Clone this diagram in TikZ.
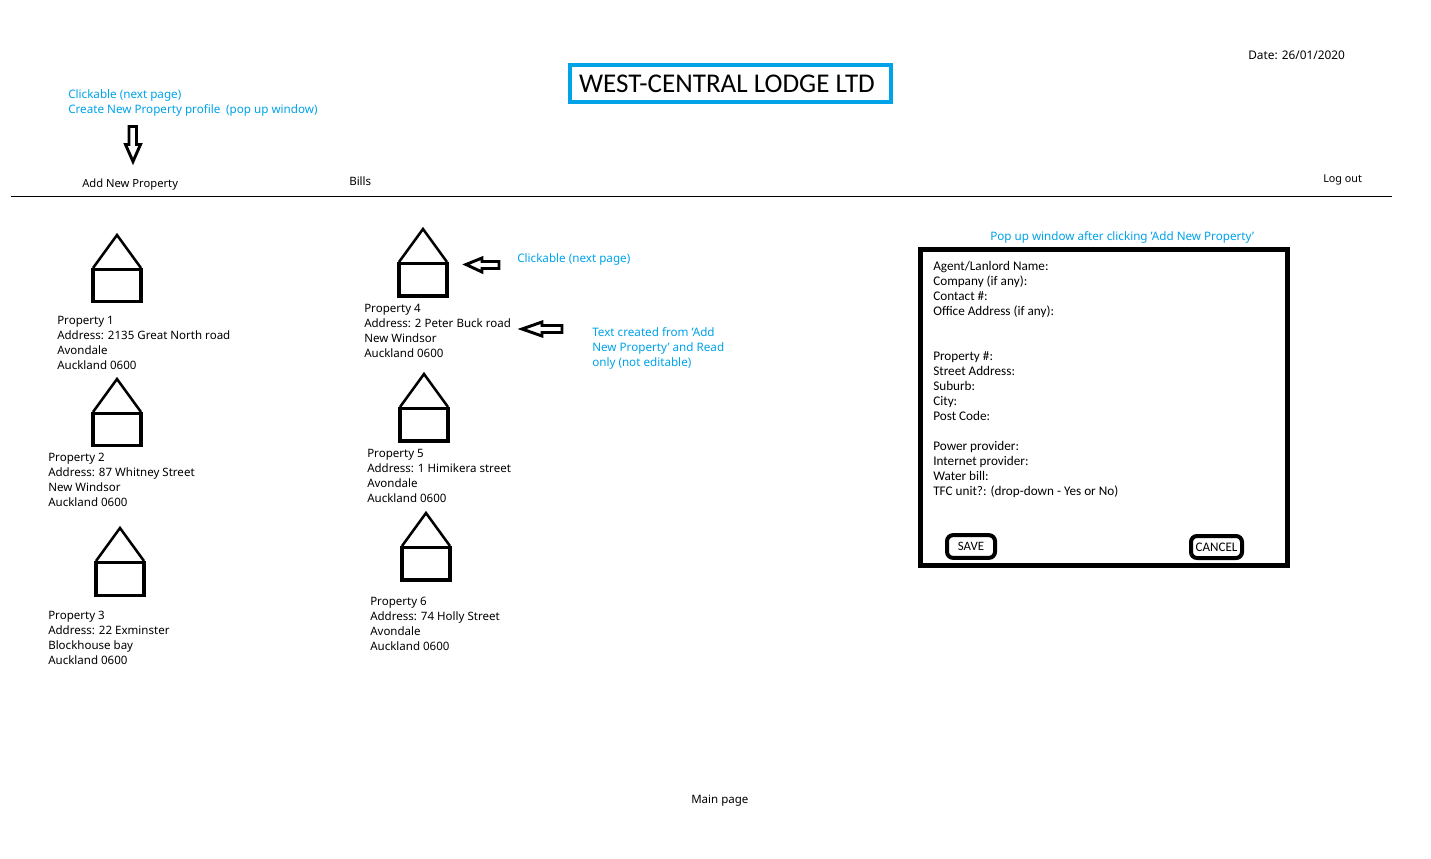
\documentclass[tikz,border=0pt]{standalone}
\usepackage{fontspec}
\setmainfont{Noto Sans}
\newfontfamily\formfont{Carlito}
\definecolor{noteblue}{HTML}{00A2E8}
\tikzset{
  pagetext/.style={inner sep=0pt, anchor=north west, align=left, font=\fontsize{8.65pt}{11.25pt}\selectfont},
  notetext/.style={pagetext, text=noteblue, font=\fontsize{8.75pt}{11.25pt}\selectfont},
  formtext/.style={inner sep=0pt, anchor=north west, align=left, font=\formfont\fontsize{9.9pt}{11.25pt}\selectfont},
  house/.style={line width=2.3pt, line join=miter},
  roof/.style={line width=1.9pt, line join=miter},
  blockarrow/.style={line width=2.2pt, line join=miter},
  formbutton/.style={line width=3pt, rounded corners=4.5pt}
}
\begin{document}
\begin{tikzpicture}[x=0.75pt,y=-0.75pt]
        \useasboundingbox (0,0) rectangle (1431,858);
        % header
        \node[draw=noteblue, line width=3pt, minimum width=240.75pt, minimum height=27.75pt, inner sep=0pt, font=\formfont\fontsize{20.3pt}{22pt}\selectfont] (title) at (730.5,83.5) {\hspace*{-5.25pt}WEST-CENTRAL LODGE LTD};
        \node[pagetext, font=\fontsize{8.9pt}{11.25pt}\selectfont] (date) at (1248,50.5) {Date: 26/01/2020};
        \node[notetext] (clicknote) at (68,89) {Clickable (next page)\\Create New Property profile\hspace{2pt} (pop up window)};
        \node[pagetext, font=\fontsize{8.4pt}{11.25pt}\selectfont] (addnew) at (82,178.5) {Add New Property};
        \node[pagetext] (bills) at (349,176.5) {Bills};
        \node[pagetext, font=\fontsize{8.1pt}{11.25pt}\selectfont] (logout) at (1323,174.5) {Log out};
        \draw[line width=0.75pt] (11,196.5) -- (1392,196.5);
        \draw[blockarrow] (129,126.5) -- (136.5,126.5) -- (136.5,144.5) -- (140.5,144.5) -- (133,161.5) -- (125.5,144.5) -- (129,144.5) -- cycle;
        % first column of houses
        \draw[roof] (93,268) -- (117,235) -- (141,268);
        \draw[house] (93,269.5) rectangle (141,301.5);
        \node[pagetext] (prop1) at (57,315.5) {Property 1\\Address: 2135 Great North road\\Avondale\\Auckland 0600};
        \draw[roof] (93,412) -- (117,379) -- (141,412);
        \draw[house] (93,413.5) rectangle (141,445.5);
        \node[pagetext] (prop2) at (48,452.5) {Property 2\\Address: 87 Whitney Street\\New Windsor\\Auckland 0600};
        \draw[roof] (96,561) -- (120,528) -- (144,561);
        \draw[house] (96,562.5) rectangle (144,595.5);
        \node[pagetext] (prop3) at (48,610.5) {Property 3\\Address: 22 Exminster\\Blockhouse bay\\Auckland 0600};
        % second column of houses
        \draw[roof] (399,262) -- (423,229) -- (447,262);
        \draw[house] (399,263.5) rectangle (447,296);
        \node[pagetext] (prop4) at (364,303.5) {Property 4\\Address: 2 Peter Buck road\\New Windsor\\Auckland 0600};
        \draw[roof] (400,407) -- (424,374) -- (448,407);
        \draw[house] (400,408.5) rectangle (448,441);
        \node[pagetext] (prop5) at (367,448.5) {Property 5\\Address: 1 Himikera street\\Avondale\\Auckland 0600};
        \draw[roof] (402,546) -- (426,513) -- (450,546);
        \draw[house] (402,547.5) rectangle (450,580);
        \node[pagetext] (prop6) at (370,596.5) {Property 6\\Address: 74 Holly Street\\Avondale\\Auckland 0600};
        % notes beside second column
        \draw[blockarrow] (499,261.5) -- (482,261.5) -- (482,258) -- (466,264.5) -- (482,272) -- (482,268.5) -- (499,268.5) -- cycle;
        \node[notetext] (nextnote) at (517,253.5) {Clickable (next page)};
        \draw[blockarrow] (562,325.5) -- (542,325.5) -- (542,322) -- (522,329) -- (542,336) -- (542,332.5) -- (562,332.5) -- cycle;
        \node[notetext] (textnote) at (592,327.5) {Text created from 'Add\\New Property' and Read\\only (not editable)};
        % pop up window
        \node[notetext] (popnote) at (990,231.5) {Pop up window after clicking 'Add New Property'};
        \draw[line width=3.75pt] (920.5,249.5) rectangle (1287.5,565.5);
        \node[formtext] (agent) at (933,261.5) {Agent/Lanlord Name:\\Company (if any):\\Contact \#:\\Office Address (if any):};
        \node[formtext] (address) at (933,351.5) {Property \#:\\Street Address:\\Suburb:\\City:\\Post Code:};
        \node[formtext] (bills2) at (933,441.5) {Power provider:\\Internet provider:\\Water bill:\\TFC unit?: (drop-down - Yes or No)};
        \node[formbutton, draw, minimum width=36pt, minimum height=17pt, inner sep=0pt, font=\formfont\fontsize{9.6pt}{10pt}\selectfont] (save) at (971,546.5) {SAVE};
        \node[formbutton, draw, minimum width=38.25pt, minimum height=16.5pt, inner sep=0pt, font=\formfont\fontsize{9.8pt}{10pt}\selectfont] (cancel) at (1216.5,547) {CANCEL};
        % footer
        \node[pagetext] (mainpage) at (691,794.5) {Main page};
\end{tikzpicture}
\end{document}
